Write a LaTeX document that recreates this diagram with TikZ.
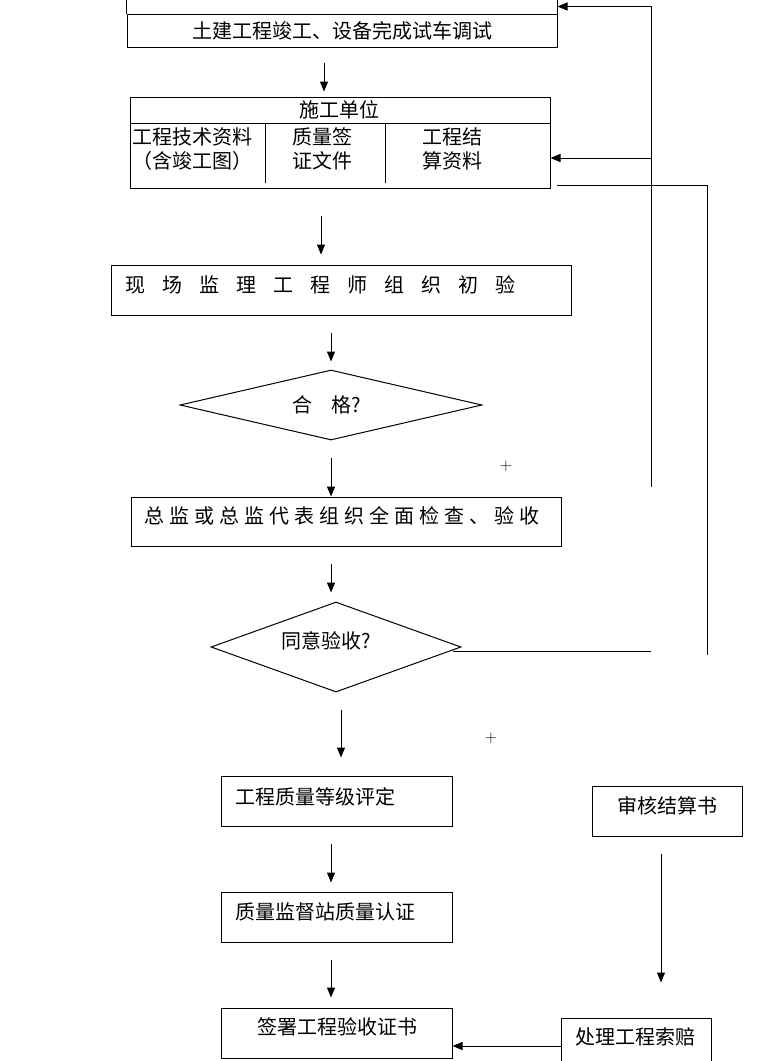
\documentclass[tikz,border=0pt]{standalone}
\usepackage{fontspec}
\newfontfamily\cjk{Noto Sans CJK SC}
\usetikzlibrary{arrows.meta,shapes.geometric}
\newcommand\gapA{\hspace{17pt}}
\newcommand\gapB{\hspace{5pt}}
\begin{document}
\begin{tikzpicture}[x=1pt,y=-1pt,
  boxwh/.style 2 args={draw,line width=1pt,inner sep=0pt,minimum width=#1pt,minimum height=#2pt},
  dia/.style 2 args={diamond,draw,line width=1pt,inner sep=0pt,minimum width=#1pt,minimum height=#2pt},
  txt/.style={inner sep=0pt,font=\cjk\fontsize{20}{24}\selectfont},
  arr/.style={line width=1pt,-{Triangle[length=10pt,width=8pt]}},
  ln/.style={line width=1pt},
  plus/.style={inner sep=0pt,font=\fontsize{17}{17}\selectfont}]
\useasboundingbox (0,0) rectangle (760,1061);
% boxes
\node[boxwh={430}{33}] (top) at (342,30.5) {};
\draw[ln] (top.north west) -- ++(0,-14.5);
\draw[ln] (top.north east) -- ++(0,-14.5);
\node[txt] (ttop) at (342.5,30.5) {土建工程竣工、设备完成试车调试};

\node[boxwh={420}{91}] (sg) at (340,142.5) {};
\draw[ln] (sg.west |- 0,123) -- (sg.east |- 0,123);
\draw[ln] (265,123) -- (265,183);
\draw[ln] (385,123) -- (385,183);
\node[txt] (tsg) at (339,110) {施工单位};
\node[txt,align=center] (tsg1) at (192.5,149) {工程技术资料\\（含竣工图）};
\node[txt,align=center] (tsg2) at (322.5,149) {质量签\\证文件};
\node[txt,align=center] (tsg3) at (452.5,149) {工程结\\算资料};

\node[boxwh={460}{50}] (xc) at (341.5,290) {};
\node[txt,anchor=west] (txc) at (125,285) {现\gapA 场\gapA 监\gapA 理\gapA 工\gapA 程\gapA 师\gapA 组\gapA 织\gapA 初\gapA 验};

\node[dia={302}{70}] (hg) at (331,405) {};
\node[txt,anchor=west] (thg) at (292,405) {合\hspace{19.5pt}格?};

\node[boxwh={430}{49}] (zj) at (346,521.5) {};
\node[txt,anchor=west] (tzj) at (144,516) {总\gapB 监\gapB 或\gapB 总\gapB 监\gapB 代\gapB 表\gapB 组\gapB 织\gapB 全\gapB 面\gapB 检\gapB 查\gapB 、\gapB 验\gapB 收};

\node[dia={250}{90}] (ty) at (336,647) {};
\node[txt,anchor=west] (tty) at (281,641) {同意验收?};

\node[boxwh={231}{50}] (q1) at (336.5,801) {};
\node[txt,anchor=west] (tq1) at (235,797) {工程质量等级评定};
\node[boxwh={231}{50}] (q2) at (336.5,917) {};
\node[txt,anchor=west] (tq2) at (235,912) {质量监督站质量认证};
\node[boxwh={231}{50}] (qs) at (336.5,1033) {};
\node[txt,anchor=west] (tqs) at (257,1027) {签署工程验收证书};

\node[boxwh={150}{50}] (sh) at (667,811) {};
\node[txt,anchor=west] (tsh) at (617,806) {审核结算书};
\node[boxwh={150}{50}] (cl) at (636,1043) {};
\node[txt,anchor=west] (tcl) at (575,1037) {处理工程索赔};

\node[plus] (p1) at (506,466) {+};
\node[plus] (p2) at (491,738) {+};

% main arrows
\draw[arr,shorten <=15pt,shorten >=5pt] (324,0 |- top.south) -- (324,0 |- sg.north);
\draw[arr,shorten <=27pt,shorten >=10pt] (321,0 |- sg.south) -- (321,0 |- xc.north);
\draw[arr,shorten <=17pt,shorten >=8pt] (331,0 |- xc.south) -- (331,0 |- hg.north);
\draw[arr,shorten <=17pt] (331,0 |- hg.south) -- (331,0 |- zj.north);
\draw[arr,shorten <=17pt,shorten >=9pt] (331,0 |- zj.south) -- (331,0 |- ty.north);
\draw[arr,shorten <=17pt,shorten >=18pt] (341,0 |- ty.south) -- (341,0 |- q1.north);
\draw[arr,shorten <=17pt,shorten >=9pt] (331,0 |- q1.south) -- (331,0 |- q2.north);
\draw[arr,shorten <=17pt,shorten >=10pt] (331,0 |- q2.south) -- (331,0 |- qs.north);
\draw[arr,shorten <=17pt,shorten >=35pt] (661,0 |- sh.south) -- (661,0 |- cl.north);
\draw[arr] (cl.west |- 0,1046) -- (qs.east |- 0,1046);

% feedback lines
\coordinate (c1) at (651,487);
\coordinate (c2) at (651,158);
\coordinate (c3) at (557,185);
\coordinate (c4) at (707,655);
\coordinate (c5) at (651,651);
\draw[arr] (c1) |- ([yshift=7pt]top.north east);
\draw[arr] (c2) -- (sg.east |- c2);
\draw[ln] (c3) -| (c4);
\draw[ln] ([xshift=-9pt,yshift=-4pt]ty.east) -- (c5);
\end{tikzpicture}
\end{document}
